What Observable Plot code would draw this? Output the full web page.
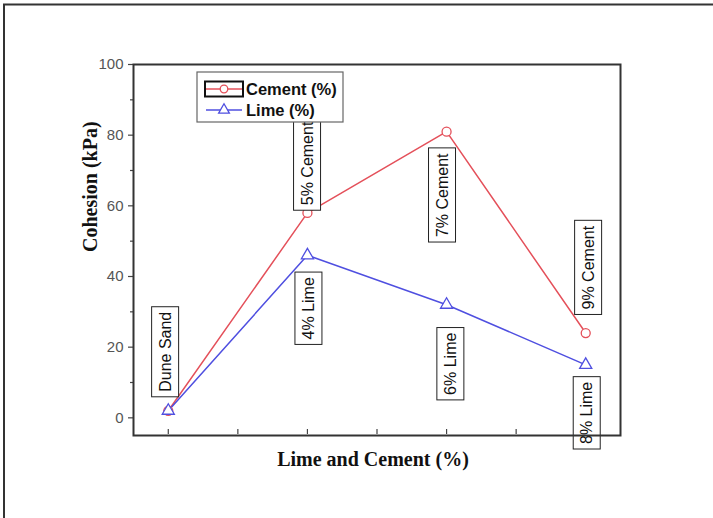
<!DOCTYPE html>
<html>
<head>
<meta charset="utf-8">
<script src="https://cdn.jsdelivr.net/npm/d3@7"></script>
<script src="https://cdn.jsdelivr.net/npm/@observablehq/plot@0.6"></script>
<style>
  html, body { margin: 0; padding: 0; background: #fff; }
  #chart { width: 713px; height: 518px; }
</style>
</head>
<body>
<div id="chart"></div>
<script>
// ---- data ----
const steps = [0, 1, 2, 3];
const cement = [2, 58, 81, 24];
const lime = [2, 46, 32, 15];
const seriesNames = ["Cement (%)", "Lime (%)"];
const labelText = ["Dune Sand", "5% Cement", "4% Lime", "7% Cement", "6% Lime", "9% Cement", "8% Lime"];
const labelX = [-0.02, 1.0, 1.01, 1.97, 2.03, 3.02, 3.01];
const labelY = [18.7, 72, 31, 63, 15.3, 42.5, 1.4];
const yTicks = [0, 20, 40, 60, 80, 100];
const yMinorTicks = [10, 30, 50, 70, 90];
const xTicks = [0, 0.5, 1, 1.5, 2, 2.5, 3];
const xTitle = "Lime and Cement (%)";
const yTitle = "Cohesion (kPa)";

const RED = "#e4505a";
const BLUE = "#4f4fe0";
const AX = "#444";

const labelIdx = labelText.map((_, i) => i);

const chart = Plot.plot({
  width: 713,
  height: 518,
  marginLeft: 133,
  marginRight: 93,
  marginTop: 64,
  marginBottom: 83,
  style: { background: "#fff", fontFamily: "Arial, 'Liberation Sans', sans-serif" },
  x: { domain: [-0.25, 3.25], axis: null },
  y: { domain: [-5, 100], axis: null },
  marks: [
    Plot.axisY(yMinorTicks, { tickSize: 3, text: null, stroke: AX, strokeWidth: 1.2 }),
    Plot.axisY(yTicks, { tickSize: 5, tickPadding: 5, fontSize: 15, stroke: AX, fill: "#555", strokeWidth: 1.2 }),
    Plot.ruleX(xTicks, { x: d => d, insetTop: 365, insetBottom: 1, stroke: AX, strokeWidth: 1.2 }),
    Plot.line(steps, { x: i => i, y: i => cement[i], stroke: RED, strokeWidth: 1.5 }),
    Plot.line(steps, { x: i => i, y: i => lime[i], stroke: BLUE, strokeWidth: 1.5 }),
    Plot.dot(steps, { x: i => i, y: i => cement[i], symbol: "circle", r: 4.5, stroke: RED, fill: "white", strokeWidth: 1.3 }),
    Plot.dot(steps, { x: i => i, y: i => lime[i], symbol: "triangle", r: 4.5, stroke: BLUE, fill: "white", strokeWidth: 1.3 }),
    Plot.text(labelIdx, {
      x: i => labelX[i], y: i => labelY[i], text: i => labelText[i],
      rotate: -90, fontSize: 16, fill: "#111", className: "boxlab"
    }),
    Plot.frame({ stroke: "#333", strokeWidth: 2 }),
    Plot.text([xTitle], { frameAnchor: "bottom", dy: 30, dx: -4, text: d => d, fontSize: 20, fontWeight: "bold", fontFamily: "'Liberation Serif', 'Times New Roman', serif", fill: "#111" }),
    Plot.text([yTitle], { frameAnchor: "left", dx: -43, dy: 2, rotate: -90, text: d => d, fontSize: 20, fontWeight: "bold", fontFamily: "'Liberation Serif', 'Times New Roman', serif", fill: "#111" })
  ]
});

document.getElementById("chart").appendChild(chart);

// boxes behind rotated point labels
const svg = d3.select(chart);
svg.selectAll("g.boxlab text").each(function () {
  const bb = this.getBBox();
  const r = document.createElementNS("http://www.w3.org/2000/svg", "rect");
  r.setAttribute("x", bb.x - 5);
  r.setAttribute("y", bb.y - 5);
  r.setAttribute("width", bb.width + 10);
  r.setAttribute("height", bb.height + 10);
  const t = this.getAttribute("transform");
  if (t) r.setAttribute("transform", t);
  r.setAttribute("fill", "white");
  r.setAttribute("stroke", "#222");
  r.setAttribute("stroke-width", "1");
  this.parentNode.insertBefore(r, this);
});

// legend
const lg = svg.append("g").attr("font-family", "Arial, 'Liberation Sans', sans-serif").attr("text-anchor", "start");
lg.append("rect").attr("x", 197).attr("y", 72).attr("width", 146).attr("height", 50)
  .attr("fill", "white").attr("stroke", "#666").attr("stroke-width", 1.2);
const entries = [
  { name: seriesNames[0], color: RED, sym: d3.symbolCircle, y: 89 },
  { name: seriesNames[1], color: BLUE, sym: d3.symbolTriangle, y: 110 }
];
entries.forEach((e, k) => {
  if (k === 0) {
    lg.append("rect").attr("x", 205).attr("y", e.y - 7.5).attr("width", 38).attr("height", 15)
      .attr("fill", "none").attr("stroke", "#111").attr("stroke-width", 2);
  }
  lg.append("line").attr("x1", 206).attr("x2", 242).attr("y1", e.y).attr("y2", e.y)
    .attr("stroke", e.color).attr("stroke-width", 1.5);
  lg.append("path").attr("d", d3.symbol(e.sym, k === 0 ? 45 : 50)())
    .attr("transform", `translate(224,${e.y})`)
    .attr("fill", "white").attr("stroke", e.color).attr("stroke-width", 1.3);
  lg.append("text").attr("x", 246).attr("y", e.y).attr("dy", "0.35em")
    .attr("text-anchor", "start")
    .attr("font-size", 16.5).attr("font-weight", "bold").attr("fill", "#111").text(e.name);
});

// outer page border (top and left)
svg.append("path").attr("d", "M4,518 L4,4.5 L713,4.5")
  .attr("fill", "none").attr("stroke", "#333").attr("stroke-width", 2);
</script>
</body>
</html>
